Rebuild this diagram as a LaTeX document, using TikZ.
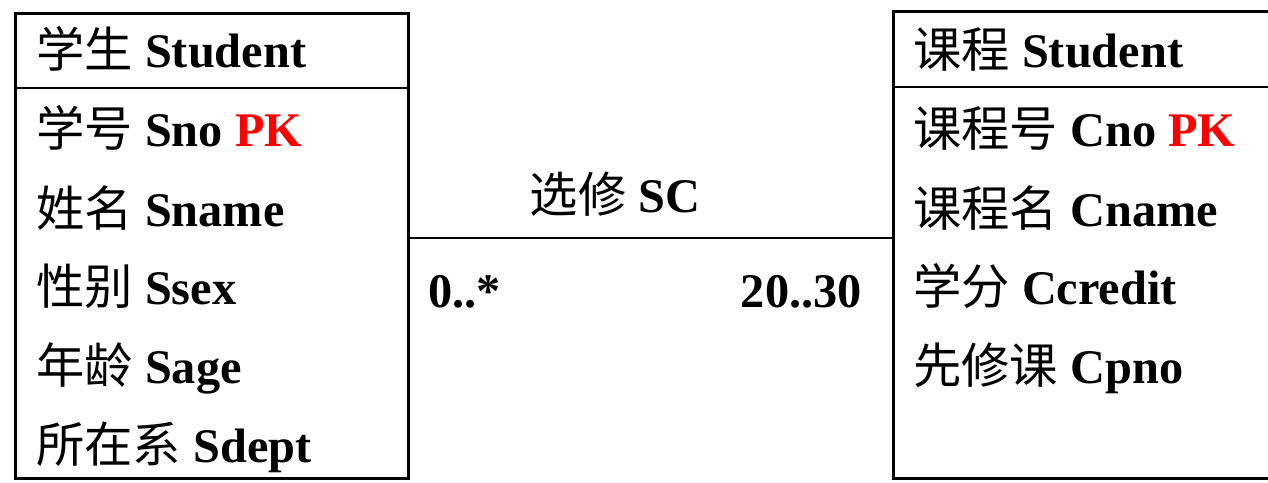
\documentclass[tikz,border=0pt]{standalone}
\usepackage{fontspec}
\setmainfont{Liberation Serif}
\newfontfamily\cjk{Noto Sans CJK SC}
\usetikzlibrary{positioning}
\newcommand{\zh}[1]{{\cjk\mdseries #1}}

\begin{document}
\begin{tikzpicture}[
  x=0.02cm, y=-0.02cm,
  classbox/.style={
    rectangle, draw=black, line width=1.6pt,
    anchor=north west, inner sep=0pt
  },
  attr/.style={
    anchor=base west, inner sep=0pt, text=black,
    font=\fontsize{27.5}{31}\selectfont\bfseries
  },
  link/.style={draw=black, line width=1.6pt}
]
\useasboundingbox (0,0) rectangle (1268,483);
\clip (0,0) rectangle (1268,483);
% class boxes
\node[classbox, minimum width=7.86cm, minimum height=9.3cm]  (student) at (14,12) {};
\node[classbox, minimum width=8.2cm,  minimum height=9.34cm] (course)  at (892,10) {};
\coordinate (shdr) at (0,88);
\coordinate (chdr) at (0,87);
\draw[link] (student.west |- shdr) -- (student.east |- shdr);
\draw[link] (course.west |- chdr)  -- (course.east |- chdr);
% Student
\node[attr] (sname)  at (36,68)  {\zh{学生} Student};
\node[attr] (sno)    at (36,147) {\zh{学号} Sno \textcolor{red}{PK}};
\node[attr] (snm)    at (36,226) {\zh{姓名} Sname};
\node[attr] (ssex)   at (36,304) {\zh{性别} Ssex};
\node[attr] (sage)   at (36,383) {\zh{年龄} Sage};
\node[attr] (sdept)  at (36,462) {\zh{所在系} Sdept};
% Course
\node[attr] (cname)  at (913,68)  {\zh{课程} Student};
\node[attr] (cno)    at (913,147) {\zh{课程号} Cno \textcolor{red}{PK}};
\node[attr] (cnm)    at (913,226) {\zh{课程名} Cname};
\node[attr] (ccred)  at (913,304) {\zh{学分} Ccredit};
\node[attr] (cpno)   at (913,383) {\zh{先修课} Cpno};
% association
\coordinate (assoc) at (650,238);
\draw[link] (student.east |- assoc) -- (course.west |- assoc);
\node[attr, anchor=base] (sc) at (615,213) {\zh{选修} SC};
\node[attr] (mleft) at (428,307) {0..*};
\node[attr, anchor=base east] (mright) at (862,307) {20..30};
\end{tikzpicture}
\end{document}
